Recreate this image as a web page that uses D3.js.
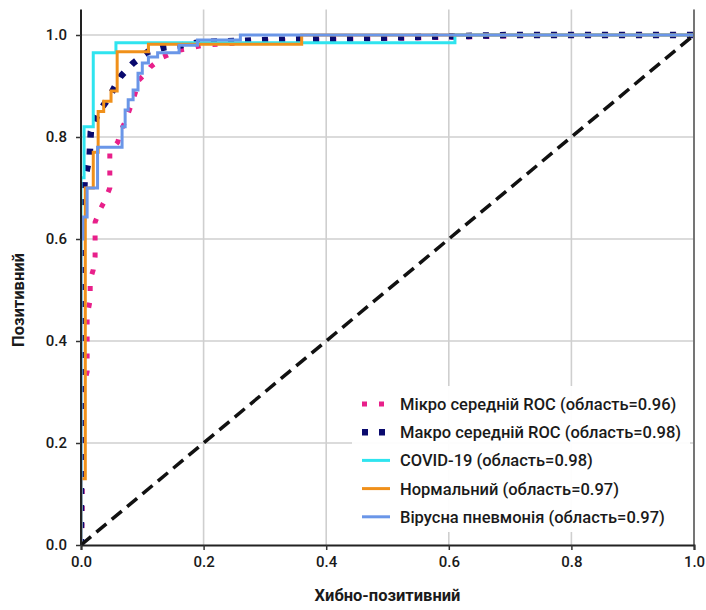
<!DOCTYPE html>
<html>
<head>
<meta charset="utf-8">
<script src="https://cdn.jsdelivr.net/npm/d3@7/dist/d3.min.js"></script>
<style>
  html, body { margin: 0; padding: 0; background: #fff; }
  svg text { font-family: Roboto, "Noto Sans", sans-serif; fill: #1a1a1a; }
</style>
</head>
<body>
<svg id="chart" width="706" height="610"></svg>
<script>
// ROC curves: false positive rate (fpr) vs true positive rate (tpr)
const microFpr = [0, 0.002, 0.002, 0.010, 0.010, 0.015, 0.015, 0.020, 0.023, 0.023, 0.031, 0.039, 0.047, 0.047, 0.060, 0.064, 0.072, 0.082, 0.085, 0.090, 0.093, 0.106, 0.113, 0.134, 0.160, 0.200, 0.300, 0.500, 0.660, 0.750, 1.0];
const microTpr = [0, 0.050, 0.300, 0.340, 0.450, 0.480, 0.520, 0.540, 0.565, 0.633, 0.657, 0.676, 0.700, 0.770, 0.790, 0.810, 0.830, 0.863, 0.873, 0.892, 0.910, 0.925, 0.937, 0.957, 0.970, 0.980, 0.988, 0.993, 0.997, 1.0, 1.0];

const macroFpr = [0, 0, 0.002, 0.004, 0.006, 0.014, 0.016, 0.028, 0.046, 0.064, 0.085, 0.109, 0.137, 0.165, 0.194, 0.300, 0.500, 0.700, 1.0];
const macroTpr = [0, 0.450, 0.600, 0.667, 0.716, 0.760, 0.810, 0.847, 0.878, 0.918, 0.945, 0.967, 0.976, 0.980, 0.986, 0.990, 0.995, 1.0, 1.0];

const covidFpr = [0, 0, 0.005, 0.005, 0.020, 0.020, 0.057, 0.057, 0.610, 0.610, 1.0];
const covidTpr = [0, 0.720, 0.720, 0.820, 0.820, 0.965, 0.965, 0.985, 0.985, 1.0, 1.0];

const normalFpr = [0, 0, 0.007, 0.007, 0.020, 0.020, 0.028, 0.028, 0.037, 0.037, 0.049, 0.049, 0.059, 0.059, 0.110, 0.110, 0.360, 0.360, 1.0];
const normalTpr = [0, 0.130, 0.130, 0.700, 0.700, 0.770, 0.770, 0.850, 0.850, 0.870, 0.870, 0.890, 0.890, 0.967, 0.967, 0.982, 0.982, 1.0, 1.0];

const viralFpr = [0, 0, 0.003, 0.003, 0.010, 0.010, 0.027, 0.027, 0.067, 0.067, 0.072, 0.072, 0.077, 0.077, 0.085, 0.085, 0.093, 0.093, 0.100, 0.100, 0.110, 0.110, 0.125, 0.125, 0.160, 0.160, 0.190, 0.190, 0.260, 0.260, 1.0];
const viralTpr = [0, 0.600, 0.600, 0.643, 0.643, 0.700, 0.700, 0.780, 0.780, 0.820, 0.820, 0.853, 0.853, 0.873, 0.873, 0.892, 0.892, 0.925, 0.925, 0.945, 0.945, 0.957, 0.957, 0.965, 0.965, 0.980, 0.980, 0.990, 0.990, 1.0, 1.0];

const chanceFpr = [0, 1];
const chanceTpr = [0, 1];

const ticks = [0, 0.2, 0.4, 0.6, 0.8, 1.0];

const seriesNames = [
  "Мікро середній ROC (область=0.96)",
  "Макро середній ROC (область=0.98)",
  "COVID-19 (область=0.98)",
  "Нормальний (область=0.97)",
  "Вірусна пневмонія (область=0.97)"
];

const xLabel = "Хибно-позитивний";
const yLabel = "Позитивний";

// styling per curve
const styles = [
  { color: "#e8208a", width: 5, dash: "5,12" },
  { color: "#0a0a6e", width: 6.5, dash: "6,11" },
  { color: "#2fe4ef", width: 3, dash: null },
  { color: "#f0901a", width: 3, dash: null },
  { color: "#6a96e8", width: 3, dash: null }
];

const curves = [
  [microFpr, microTpr],
  [macroFpr, macroTpr],
  [covidFpr, covidTpr],
  [normalFpr, normalTpr],
  [viralFpr, viralTpr]
];

const svg = d3.select("#chart");
const left = 81, right = 694, bottom = 545;
const x = d3.scaleLinear().domain([0, 1]).range([left, right]);
const y = d3.scaleLinear().domain([0, 1]).range([bottom, 35]);
const yTop = y(1.05);

// grid
const grid = svg.append("g");
grid.selectAll(".gx").data(ticks.slice(1)).join("line")
  .attr("x1", d => x(d)).attr("x2", d => x(d))
  .attr("y1", yTop).attr("y2", bottom)
  .attr("stroke", "#cfcfcf").attr("stroke-width", 1.6);
grid.selectAll(".gy").data(ticks.slice(1)).join("line")
  .attr("x1", left).attr("x2", right)
  .attr("y1", d => y(d)).attr("y2", d => y(d))
  .attr("stroke", "#cfcfcf").attr("stroke-width", 1.6);

// curves
const line = d3.line().x(d => x(d[0])).y(d => y(d[1]));
svg.append("clipPath").attr("id", "plotClip")
  .append("rect").attr("x", left).attr("y", yTop - 4).attr("width", right - left + 4).attr("height", bottom - yTop + 4);

const plot = svg.append("g").attr("clip-path", "url(#plotClip)");
curves.forEach((c, i) => {
  const pts = c[0].map((f, k) => [f, c[1][k]]);
  const s = styles[i];
  plot.append("path")
    .attr("d", line(pts))
    .attr("fill", "none")
    .attr("stroke", s.color)
    .attr("stroke-width", s.width)
    .attr("stroke-dasharray", s.dash)
    .attr("stroke-linejoin", "miter");
});

// chance diagonal
plot.append("path")
  .attr("d", line(chanceFpr.map((f, k) => [f, chanceTpr[k]])))
  .attr("fill", "none")
  .attr("stroke", "#111")
  .attr("stroke-width", 3.5)
  .attr("stroke-dasharray", "13,7");

// spines
svg.append("line").attr("x1", right).attr("x2", right).attr("y1", yTop).attr("y2", bottom)
  .attr("stroke", "#555").attr("stroke-width", 1.5);

// axes
const fmt = d3.format(".1f");
const xAxis = svg.append("g").attr("transform", `translate(0,${bottom})`)
  .call(d3.axisBottom(x).tickValues(ticks).tickFormat(fmt).tickSize(5).tickPadding(6));
const yAxis = svg.append("g").attr("transform", `translate(${left},0)`)
  .call(d3.axisLeft(y).tickValues(ticks).tickFormat(fmt).tickSize(5).tickPadding(9));
[xAxis, yAxis].forEach(a => {
  a.attr("font-family", null);
  a.select(".domain").attr("stroke", "#222").attr("stroke-width", 2);
  a.selectAll(".tick line").attr("stroke", "#333").attr("stroke-width", 1.5);
  a.selectAll(".tick text").attr("font-size", 15).attr("font-weight", 500).style("fill", "#1a1a1a");
});
yAxis.select(".domain").attr("d", `M-0,${yTop}V${bottom}`);

// axis titles
svg.append("text").attr("x", (left + right) / 2).attr("y", 601)
  .attr("text-anchor", "middle").attr("font-size", 16.5).attr("font-weight", "bold")
  .text(xLabel);
svg.append("text").attr("transform", `translate(24,${300}) rotate(-90)`)
  .attr("text-anchor", "middle").attr("font-size", 16.5).attr("font-weight", "bold")
  .text(yLabel);

// legend
const lg = svg.append("g");
lg.append("rect").attr("x", 352).attr("y", 386).attr("width", 338).attr("height", 146)
  .attr("fill", "#fff").attr("fill-opacity", 0.95);
seriesNames.forEach((name, i) => {
  const cy = 404 + i * 28.2;
  const s = styles[i];
  lg.append("line").attr("x1", 362).attr("x2", 390).attr("y1", cy).attr("y2", cy)
    .attr("stroke", s.color).attr("stroke-width", s.width)
    .attr("stroke-dasharray", s.dash);
  lg.append("text").attr("x", 400).attr("y", cy + 6)
    .attr("font-size", 16.5).attr("font-weight", 500).text(name);
});
</script>
</body>
</html>
